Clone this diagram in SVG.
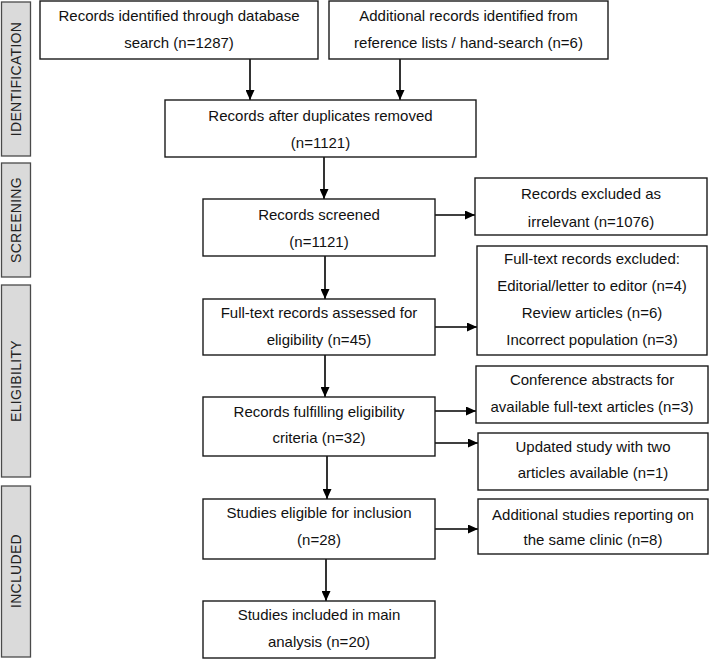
<svg xmlns="http://www.w3.org/2000/svg" width="710" height="661" viewBox="0 0 710 661">
<style>
.box{fill:#fff;stroke:#1a1a1a;stroke-width:1.4}
.side{fill:#dadada;stroke:#4a4a4a;stroke-width:1.3}
.t{font-family:"Liberation Sans",Arial,sans-serif;font-size:15px;fill:#111;text-anchor:middle}
.s{font-family:"Liberation Sans",Arial,sans-serif;font-size:14px;fill:#222;text-anchor:middle;letter-spacing:0.3px}
.c{stroke:#000;stroke-width:1.6;fill:none;marker-end:url(#ah)}
</style>
<defs>
<marker id="ah" markerUnits="userSpaceOnUse" markerWidth="11" markerHeight="9" refX="10" refY="4.5" orient="auto">
<path d="M0,0 L10,4.5 L0,9 z" fill="#000"/>
</marker>
</defs>
<g id="phases">
<g id="phase-identification"><rect class="side" x="1.5" y="2" width="29" height="154"/><text class="s" transform="translate(21,79) rotate(-90)">IDENTIFICATION</text></g>
<g id="phase-screening"><rect class="side" x="1.5" y="163" width="29" height="114"/><text class="s" transform="translate(21,220) rotate(-90)">SCREENING</text></g>
<g id="phase-eligibility"><rect class="side" x="1.5" y="285" width="29" height="192"/><text class="s" transform="translate(21,381) rotate(-90)">ELIGIBILITY</text></g>
<g id="phase-included"><rect class="side" x="1.5" y="486" width="29" height="171"/><text class="s" transform="translate(21,571) rotate(-90)">INCLUDED</text></g>
</g>
<g id="connectors">
<line class="c" x1="250" y1="59" x2="250" y2="100"/>
<line class="c" x1="400" y1="59" x2="400" y2="100"/>
<line class="c" x1="324" y1="157" x2="324" y2="199"/>
<line class="c" x1="325" y1="256" x2="325" y2="299"/>
<line class="c" x1="325" y1="355" x2="325" y2="397"/>
<line class="c" x1="327" y1="456" x2="327" y2="499"/>
<line class="c" x1="326" y1="559" x2="326" y2="601"/>
<line class="c" x1="435" y1="215" x2="475" y2="215"/>
<line class="c" x1="435" y1="327" x2="477" y2="327"/>
<line class="c" x1="435" y1="411" x2="476" y2="411"/>
<line class="c" x1="435" y1="443" x2="478" y2="443"/>
<line class="c" x1="435" y1="529" x2="478" y2="529"/>
</g>
<g id="n1"><rect class="box" x="40" y="1" width="278" height="58"/><text class="t" x="179" y="21">Records identified through database</text><text class="t" x="179" y="48">search (n=1287)</text></g>
<g id="n2"><rect class="box" x="329" y="1" width="279" height="58"/><text class="t" x="468.5" y="21">Additional records identified from</text><text class="t" x="468.5" y="48">reference lists / hand-search (n=6)</text></g>
<g id="n3"><rect class="box" x="165" y="100" width="311" height="57"/><text class="t" x="320.5" y="121">Records after duplicates removed</text><text class="t" x="320.5" y="148">(n=1121)</text></g>
<g id="n4"><rect class="box" x="203" y="199" width="232" height="57"/><text class="t" x="319" y="220">Records screened</text><text class="t" x="319" y="247">(n=1121)</text></g>
<g id="n5"><rect class="box" x="475" y="178" width="232" height="57"/><text class="t" x="591" y="199">Records excluded as</text><text class="t" x="591" y="227">irrelevant (n=1076)</text></g>
<g id="n6"><rect class="box" x="477" y="246" width="230" height="109"/><text class="t" x="592" y="264">Full-text records excluded:</text><text class="t" x="592" y="291">Editorial/letter to editor (n=4)</text><text class="t" x="592" y="318">Review articles (n=6)</text><text class="t" x="592" y="345">Incorrect population (n=3)</text></g>
<g id="n7"><rect class="box" x="203" y="299" width="232" height="56"/><text class="t" x="319" y="318">Full-text records assessed for</text><text class="t" x="319" y="345">eligibility (n=45)</text></g>
<g id="n8"><rect class="box" x="203" y="397" width="232" height="59"/><text class="t" x="319" y="417">Records fulfilling eligibility</text><text class="t" x="319" y="443">criteria (n=32)</text></g>
<g id="n9"><rect class="box" x="476" y="366" width="232" height="57"/><text class="t" x="592" y="385">Conference abstracts for</text><text class="t" x="592" y="412">available full-text articles (n=3)</text></g>
<g id="n10"><rect class="box" x="478" y="433" width="230" height="57"/><text class="t" x="593" y="452">Updated study with two</text><text class="t" x="593" y="478">articles available (n=1)</text></g>
<g id="n11"><rect class="box" x="203" y="499" width="232" height="60"/><text class="t" x="319" y="518">Studies eligible for inclusion</text><text class="t" x="319" y="545">(n=28)</text></g>
<g id="n12"><rect class="box" x="478" y="499" width="230" height="55"/><text class="t" x="593" y="520">Additional studies reporting on</text><text class="t" x="593" y="545">the same clinic (n=8)</text></g>
<g id="n13"><rect class="box" x="203" y="601" width="232" height="57"/><text class="t" x="319" y="620">Studies included in main</text><text class="t" x="319" y="647">analysis (n=20)</text></g>
</svg>
